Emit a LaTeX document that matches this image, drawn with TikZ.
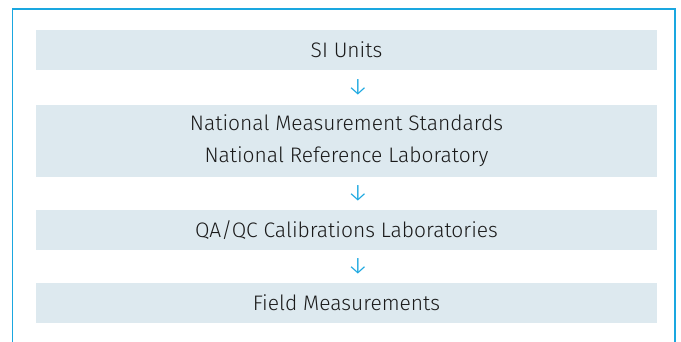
\documentclass[tikz,border=0pt]{standalone}
\usepackage{fontspec}
\setmainfont{Fira Sans}[UprightFont=* Light]
\definecolor{frameblue}{HTML}{1AA7E0}
\definecolor{boxfill}{HTML}{DDE9EF}
\definecolor{txt}{HTML}{1A1A1A}
\begin{document}
\begin{tikzpicture}[x=1pt,y=-1pt,
  stepbox/.style={fill=boxfill, draw=none, minimum width=621pt, inner sep=0pt, text=txt, font=\fontsize{21}{32}\selectfont, align=center},
  arr/.style={text=frameblue, font=\fontsize{24}{24}\selectfont, inner sep=0pt}]
\useasboundingbox (0,0) rectangle (681,342);
\draw[frameblue, line width=1.6pt] (12.5,342) -- (12.5,9) -- (675,9) -- (675,342);
\node[stepbox, minimum height=40pt] (a) at (346.5,50) {SI Units};
\node[stepbox, minimum height=72pt] (b) at (346.5,141) {National Measurement Standards\\National Reference Laboratory};
\node[stepbox, minimum height=40pt] (c) at (346.5,230) {QA/QC Calibrations Laboratories};
\node[stepbox, minimum height=40pt] (d) at (346.5,303) {Field Measurements};
\node[arr] (a1) at (358,87) {↓};
\node[arr] (a2) at (358,193) {↓};
\node[arr] (a3) at (358,266.5) {↓};
\end{tikzpicture}
\end{document}
